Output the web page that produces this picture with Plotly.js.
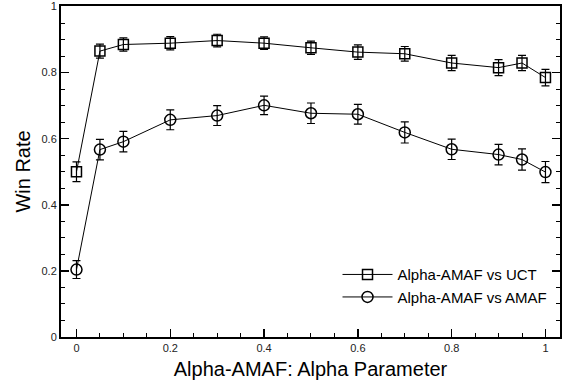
<!DOCTYPE html>
<html>
<head>
<meta charset="utf-8">
<script src="https://cdn.plot.ly/plotly-3.0.1.min.js"></script>
<style>html,body{margin:0;padding:0;background:#fff;}#chart{width:564px;height:383px;}</style>
</head>
<body>
<div id="chart"></div>
<script>
var alphaValues = [0, 0.05, 0.1, 0.2, 0.3, 0.4, 0.5, 0.6, 0.7, 0.8, 0.9, 0.95, 1];
var winVsUCT = [0.50, 0.865, 0.885, 0.889, 0.897, 0.889, 0.875, 0.862, 0.857, 0.829, 0.815, 0.829, 0.785];
var errVsUCT = [0.030, 0.021, 0.020, 0.020, 0.019, 0.019, 0.020, 0.022, 0.022, 0.023, 0.024, 0.023, 0.025];
var winVsAMAF = [0.204, 0.567, 0.591, 0.657, 0.670, 0.701, 0.677, 0.674, 0.619, 0.568, 0.552, 0.537, 0.499];
var errVsAMAF = [0.027, 0.031, 0.031, 0.030, 0.030, 0.028, 0.031, 0.030, 0.032, 0.031, 0.031, 0.032, 0.032];
var seriesNames = ["Alpha-AMAF vs UCT", "Alpha-AMAF vs AMAF"];
var tickVals = [0, 0.2, 0.4, 0.6, 0.8, 1];
var tickText = ["0", "0.2", "0.4", "0.6", "0.8", "1"];

var font = "Liberation Sans, Arial, Helvetica, sans-serif";

function trace(y, err, name, symbol) {
  return {
    x: alphaValues, y: y, name: name, type: "scatter", mode: "lines+markers",
    line: {color: "#000", width: 1},
    marker: {symbol: symbol, size: symbol === "circle-open" ? 11 : 10, color: "#000", line: {color: "#000", width: 1.5}},
    error_y: {type: "data", array: err, visible: true, color: "#000", thickness: 1.2, width: 4}
  };
}

var data = [
  trace(winVsUCT, errVsUCT, seriesNames[0], "square-open"),
  trace(winVsAMAF, errVsAMAF, seriesNames[1], "circle-open")
];

var layout = {
  width: 564, height: 383,
  margin: {l: 61, r: 4, t: 6, b: 46},
  paper_bgcolor: "#fff", plot_bgcolor: "#fff",
  font: {family: font, color: "#000"},
  showlegend: true,
  legend: {x: 0.985, y: 0.155, xanchor: "right", yanchor: "middle", bgcolor: "rgba(0,0,0,0)",
           font: {size: 15, family: font}, itemwidth: 50, tracegroupgap: 0},
  xaxis: {
    range: [-0.033, 1.031], showgrid: false, zeroline: false,
    showline: true, linecolor: "#000", linewidth: 2, mirror: true,
    ticks: "inside", ticklen: 8, tickwidth: 1.5, tickcolor: "#000",
    tickvals: tickVals, ticktext: tickText,
    minor: {dtick: 0.05, tick0: 0, ticks: "inside", ticklen: 4, tickwidth: 1, tickcolor: "#000"},
    tickfont: {size: 11, color: "#222"},
    title: {text: "Alpha-AMAF: Alpha Parameter", font: {size: 20}, standoff: 9}
  },
  yaxis: {
    range: [0, 1.0015], showgrid: false, zeroline: false,
    showline: true, linecolor: "#000", linewidth: 2, mirror: "ticks",
    ticks: "inside", ticklen: 8, tickwidth: 1.5, tickcolor: "#000",
    tickvals: tickVals, ticktext: tickText,
    minor: {dtick: 0.05, tick0: 0, ticks: "inside", ticklen: 4, tickwidth: 1, tickcolor: "#000"},
    tickfont: {size: 11, color: "#222"},
    title: {text: "Win Rate", font: {size: 20}, standoff: 6}
  }
};

Plotly.newPlot("chart", data, layout, {displayModeBar: false, staticPlot: true});
</script>
</body>
</html>
